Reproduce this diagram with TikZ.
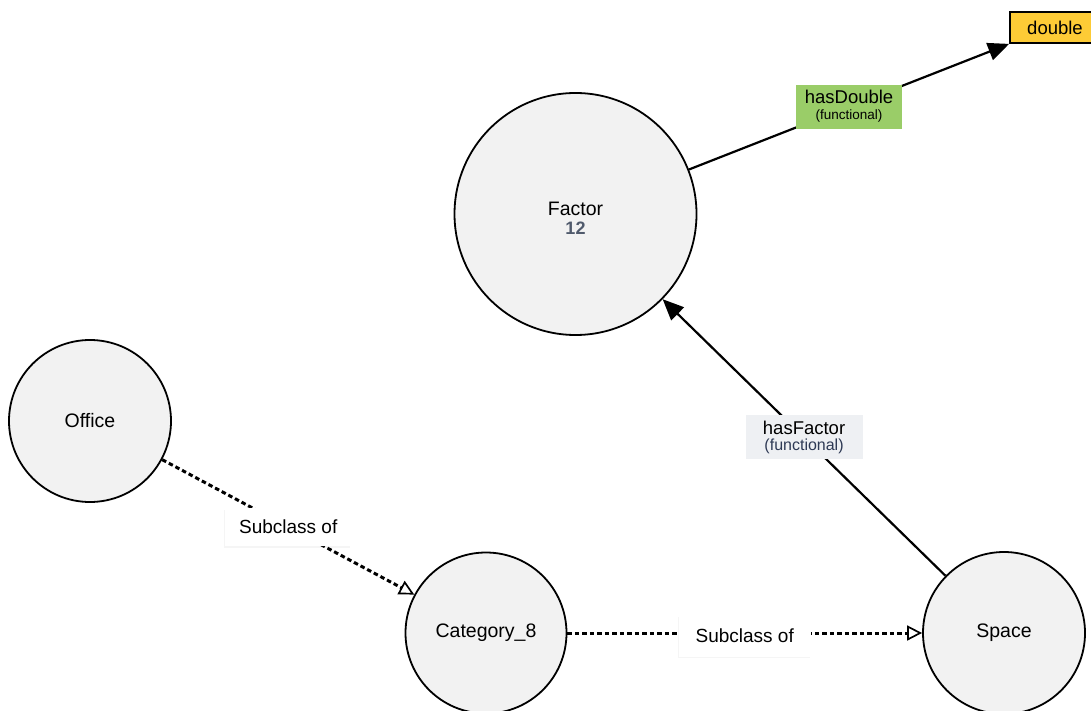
\documentclass[tikz,border=0pt]{standalone}
\usepackage{fontspec}
\setmainfont{Liberation Sans}
\usetikzlibrary{arrows.meta,shadows}
\definecolor{classfill}{HTML}{F2F2F2}
\definecolor{dtfill}{HTML}{FDCB36}
\definecolor{propfill}{HTML}{9ACD68}
\definecolor{lblfill}{HTML}{EEF0F3}
\definecolor{numcol}{HTML}{505A6C}
\definecolor{funcol}{HTML}{2E3A55}
\tikzset{
  cls/.style={circle, draw=black, line width=1.8pt, fill=classfill, inner sep=0pt,
    font=\fontsize{19.5}{22}\selectfont, align=center},
  dtype/.style={rectangle, draw=black, line width=1.8pt, fill=dtfill, inner sep=0pt,
    minimum width=90pt, minimum height=31pt, font=\fontsize{18.5}{21}\selectfont},
  proplbl/.style={rectangle, inner sep=0pt, align=center, minimum height=44pt,
    font=\fontsize{18.5}{20}\selectfont},
  sublbl/.style={rectangle, fill=white, inner sep=0pt, minimum height=38pt,
    font=\fontsize{19}{21}\selectfont, drop shadow={shadow xshift=-1pt, shadow yshift=-1.5pt, opacity=0.08}},
  funcedge/.style={line width=2.2pt, -{Triangle[length=21pt, width=18pt]}},
  subedge/.style={line width=3pt, dash pattern=on 4.5pt off 3pt,
    -{Triangle[open, length=15pt, width=15pt, line width=1.7pt]}}
}
\begin{document}
\begin{tikzpicture}[x=1pt, y=-1pt]
\path[use as bounding box, fill=white] (0,0) rectangle (1091,711);
\clip (0,0) rectangle (1091,711);

% classes
\node[cls, minimum size=242pt] (factor) at (575.5,214)
  {\rule{0pt}{22pt}Factor\\[-2pt]{\color{numcol}\bfseries\fontsize{18}{20}\selectfont 12}};
\node[cls, minimum size=162pt] (office) at (90,421) {Office};
\node[cls, minimum size=161pt] (cat) at (486,633) {Category\_8};
\node[cls, minimum size=162pt] (space) at (1004,633) {Space};

% datatype
\node[dtype] (double) at (1055,27.5) {double};

% functional properties
\draw[funcedge] (factor) -- node[proplbl, fill=propfill, minimum width=106pt, pos=0.5]
  {hasDouble\\[-4pt]{\fontsize{13.5}{15}\selectfont (functional)}} (double.south west);
\draw[funcedge] (space) -- node[proplbl, fill=lblfill, minimum width=117pt, pos=0.5]
  {hasFactor\\[-4pt]{\color{funcol}\fontsize{16}{17}\selectfont (functional)}} (factor);

% subclass relations
\draw[subedge] (office) -- node[sublbl, minimum width=126pt, pos=0.5] {Subclass of} (cat);
\draw[subedge] (cat) -- node[sublbl, minimum width=132pt, pos=0.5, yshift=-3pt, minimum height=41pt] {Subclass of} (space);
\end{tikzpicture}
\end{document}
